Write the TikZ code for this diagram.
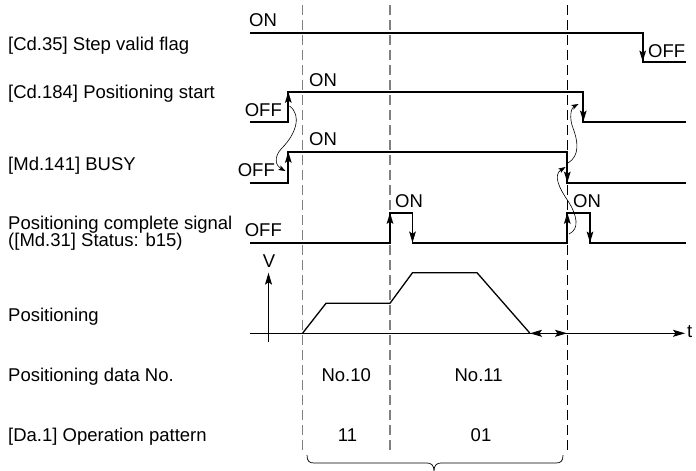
\documentclass[tikz,border=0pt]{standalone}
\usepackage{fontspec}
\setmainfont{Liberation Sans}
\usetikzlibrary{arrows.meta}
\begin{document}
\begin{tikzpicture}[x=1pt,y=-1pt,
  lbl/.style={font=\fontsize{18.5}{20}\selectfont, inner sep=0pt},
  sig/.style={line width=1.7pt, line join=miter},
  edgearr/.style={line width=1.7pt, -{Stealth[length=11pt,width=6.5pt,inset=2pt]}},
  cause/.style={line width=0.6pt, -{Stealth[length=7pt,width=5pt,inset=1.5pt]}},
  guide/.style={line width=1.2pt, black!50, dash pattern=on 10pt off 5pt},
  guideb/.style={line width=0.8pt, black, dash pattern=on 10pt off 5pt},
  axis/.style={line width=0.9pt},
  prof/.style={line width=1.3pt, line join=miter},
  bracestyle/.style={line width=0.7pt}]
\useasboundingbox (0,0) rectangle (696,471);

% guide lines
\coordinate (g1t) at (302.5,5); \coordinate (g1b) at (302.5,452);
\coordinate (g2t) at (390,5);   \coordinate (g2b) at (390,452);
\coordinate (g3t) at (567,5);   \coordinate (g3b) at (567,452);
\draw[guide] (g1t) -- (g1b);
\draw[guide] (g2t) -- (g2b);
\draw[guideb] (g3t) -- (g3b);

% left labels
\node[lbl, anchor=base west] (l1) at (8,50) {[Cd.35] Step valid flag};
\node[lbl, anchor=base west] (l2) at (8,98.5) {[Cd.184] Positioning start};
\node[lbl, anchor=base west] (l3) at (8,170) {[Md.141] BUSY};
\node[lbl, anchor=base west] (l4a) at (8,229.5) {Positioning complete signal};
\node[lbl, anchor=base west] (l4b) at (8,246.5) {([Md.31] Status: b15)};
\node[lbl, anchor=base west] (l5) at (8,321.5) {Positioning};
\node[lbl, anchor=base west] (l6) at (8,381.5) {Positioning data No.};
\node[lbl, anchor=base west] (l7) at (8,441.5) {[Da.1] Operation pattern};

% Cd.35 step valid flag
\draw[sig] (250,32.7) -- (642.7,32.7) -- (642.7,61.7) -- (686,61.7);
\draw[edgearr] (642.7,32.7) -- (642.7,61.7);
\node[lbl, anchor=west] (on1) at (249,20) {ON};
\node[lbl, anchor=west] (off1) at (648,51.5) {OFF};

% Cd.184 positioning start
\coordinate (s1) at (288.3,121.7); \coordinate (s2) at (288.3,91.7);
\coordinate (s3) at (583.3,91.7);  \coordinate (s4) at (583.3,121.7);
\draw[sig] (250,121.7) -- (s1) -- (s2) -- (s3) -- (s4) -- (686,121.7);
\draw[edgearr] (s1) -- (s2);
\draw[edgearr] (s3) -- (s4);
\node[lbl, anchor=west] (on2) at (309,80) {ON};
\node[lbl, anchor=east] (off2) at (282,110) {OFF};

% BUSY
\coordinate (b1) at (288.3,182.7); \coordinate (b2) at (288.3,151.7);
\coordinate (b3) at (567.3,151.7); \coordinate (b4) at (567.3,182.7);
\draw[sig] (250,182.7) -- (b1) -- (b2) -- (b3) -- (b4) -- (686,182.7);
\draw[edgearr] (b1) -- (b2);
\draw[edgearr] (b3) -- (b4);
\node[lbl, anchor=west] (on3) at (309,139) {ON};
\node[lbl, anchor=east] (off3) at (275,170) {OFF};

% Positioning complete signal
\coordinate (p1) at (390,242.7); \coordinate (p2) at (390,212.7);
\coordinate (p3) at (412.5,212.7); \coordinate (p4) at (412.5,242.7);
\coordinate (p5) at (567.3,242.7); \coordinate (p6) at (567.3,212.7);
\coordinate (p7) at (590,212.7); \coordinate (p8) at (590,242.7);
\draw[sig] (250,242.7) -- (p1) -- (p2) -- (p3) -- (p4) -- (p5) -- (p6) -- (p7) -- (p8) -- (686,242.7);
\draw[edgearr] (p1) -- (p2);
\draw[edgearr] (p3) -- (p4);
\draw[edgearr] (p5) -- (p6);
\draw[edgearr] (p7) -- (p8);
\node[lbl, anchor=west] (on4) at (395,201) {ON};
\node[lbl, anchor=west] (on5) at (573,201) {ON};
\node[lbl, anchor=east] (off4) at (282,230) {OFF};

% cause-effect curves
\draw[cause] (289.5,106) .. controls (302,115) and (296,134) .. (282,148)
  .. controls (273,157) and (276,166) .. (285.5,171);
\draw[cause] (568,163) .. controls (580,156) and (578,141) .. (573,128)
  .. controls (569,118) and (571,108) .. (578.5,104);
\draw[cause] (569,234) .. controls (580,229) and (577,215) .. (568,201)
  .. controls (559,188) and (553,175) .. (565.5,167);

% positioning axes
\coordinate (t0) at (250,333.3); \coordinate (t1) at (685,333.3);
\draw[axis, -{Stealth[length=12pt,width=7pt,inset=2.5pt]}] (t0) -- (t1);
\node[lbl, anchor=west] (tl) at (687,332) {t};
\coordinate (v0) at (268.5,341.7); \coordinate (v1) at (268.5,272.7);
\draw[axis, -{Stealth[length=12pt,width=7pt,inset=2.5pt]}] (v0) -- (v1);
\node[lbl] (vl) at (269,261) {V};

% velocity profile
\draw[prof] (302.5,333.3) -- (326,303.3) -- (390,303.3) -- (412.5,272.7)
  -- (477,272.7) -- (530,333.3);
\coordinate (d1) at (530,333.3); \coordinate (d2) at (567,333.3);
\draw[axis, {Stealth[length=12pt,width=7pt,inset=2.5pt]}-{Stealth[length=12pt,width=7pt,inset=2.5pt]}] (d1) -- (d2);

% data numbers and patterns
\node[lbl, anchor=base] (n10) at (346.25,381.5) {No.10};
\node[lbl, anchor=base] (n11) at (478.6,381.5) {No.11};
\node[lbl, anchor=base] (o11) at (347.5,441.5) {11};
\node[lbl, anchor=base] (o01) at (481,441.5) {01};

% brace
\draw[bracestyle] (307,455) .. controls (307,461) and (309,463) .. (314,463)
  -- (427,463) .. controls (431,463) and (434,465) .. (434,471)
  .. controls (434,465) and (437,463) .. (441,463)
  -- (556,463) .. controls (561,463) and (563,461) .. (563,455);
\end{tikzpicture}
\end{document}
